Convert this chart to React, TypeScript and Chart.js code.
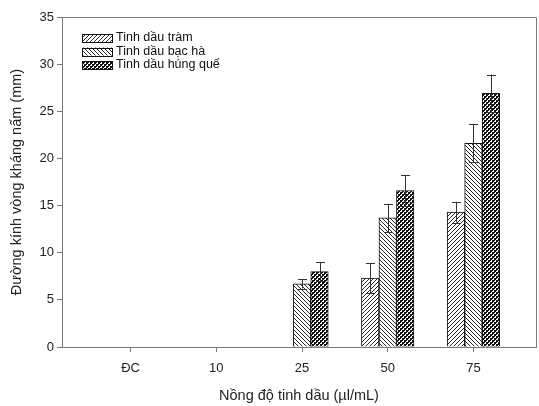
import React, { useEffect, useRef } from 'react';
import { Chart, registerables } from 'chart.js';

Chart.register(...registerables);

const categories = ['ĐC', '10', '25', '50', '75'];
const seriesNames = ['Tinh dầu tràm', 'Tinh dầu bạc hà', 'Tinh dầu húng quế'];
const tramValues = [0, 0, 0, 7.3, 14.3];
const tramErrors = [0, 0, 0, 1.6, 1.1];
const bachaValues = [0, 0, 6.7, 13.7, 21.6];
const bachaErrors = [0, 0, 0.5, 1.5, 2.0];
const hungqueValues = [0, 0, 8.0, 16.6, 26.9];
const hungqueErrors = [0, 0, 1.0, 1.6, 2.0];
const yTickValues = [0, 5, 10, 15, 20, 25, 30, 35];

const FONT = "'Liberation Sans', Arial, sans-serif";
const AXIS_COLOR = '#7a7a7a';

function makePattern(kind: string): CanvasPattern | string {
  const c = document.createElement('canvas');
  c.width = 4;
  c.height = 4;
  const g = c.getContext('2d');
  if (!g) return '#888';
  g.fillStyle = '#ffffff';
  g.fillRect(0, 0, 4, 4);
  g.strokeStyle = '#111';
  g.fillStyle = '#111';
  g.lineWidth = 0.9;
  if (kind === 'fwd') {
    g.beginPath();
    g.moveTo(0, 4); g.lineTo(4, 0);
    g.moveTo(-1, 1); g.lineTo(1, -1);
    g.moveTo(3, 5); g.lineTo(5, 3);
    g.stroke();
  } else if (kind === 'back') {
    g.beginPath();
    g.moveTo(0, 0); g.lineTo(4, 4);
    g.moveTo(-1, 3); g.lineTo(1, 5);
    g.moveTo(3, -1); g.lineTo(5, 1);
    g.stroke();
  } else {
    g.fillRect(0, 0, 2, 2);
    g.fillRect(2, 2, 2, 2);
    g.fillRect(0, 2, 1, 1);
    g.fillRect(2, 0, 1, 1);
  }
  const p = g.createPattern(c, 'repeat');
  return p || '#888';
}

const errorBarPlugin = {
  id: 'errorBars',
  afterDatasetsDraw(chart: any) {
    const ctx = chart.ctx;
    const yScale = chart.scales.y;
    ctx.save();
    ctx.strokeStyle = '#333';
    ctx.lineWidth = 1;
    chart.data.datasets.forEach((ds: any, i: number) => {
      const meta = chart.getDatasetMeta(i);
      meta.data.forEach((bar: any, j: number) => {
        const err = ds.errors[j];
        const v = ds.data[j].y;
        if (!err) return;
        const x = Math.round(bar.x) + 0.5;
        const yTop = yScale.getPixelForValue(v + err);
        const yBot = yScale.getPixelForValue(v - err);
        const cap = 4.5;
        ctx.beginPath();
        ctx.moveTo(x, yTop);
        ctx.lineTo(x, yBot);
        ctx.moveTo(x - cap, Math.round(yTop) + 0.5);
        ctx.lineTo(x + cap, Math.round(yTop) + 0.5);
        ctx.moveTo(x - cap, Math.round(yBot) + 0.5);
        ctx.lineTo(x + cap, Math.round(yBot) + 0.5);
        ctx.stroke();
      });
    });
    ctx.restore();
  },
};

const framePlugin = {
  id: 'frame',
  afterDraw(chart: any) {
    const { ctx, chartArea } = chart;
    ctx.save();
    ctx.strokeStyle = AXIS_COLOR;
    ctx.lineWidth = 1;
    ctx.beginPath();
    ctx.moveTo(Math.round(chartArea.left) + 0.5, Math.round(chartArea.top) + 0.5);
    ctx.lineTo(Math.round(chartArea.right) + 0.5, Math.round(chartArea.top) + 0.5);
    ctx.lineTo(Math.round(chartArea.right) + 0.5, Math.round(chartArea.bottom) + 0.5);
    ctx.stroke();
    ctx.restore();
  },
};

const legendPlugin = {
  id: 'customLegend',
  afterDraw(chart: any) {
    const { ctx, chartArea } = chart;
    ctx.save();
    const x0 = chartArea.left + 20;
    const y0 = chartArea.top + 21;
    const rowH = 13.5;
    chart.data.datasets.forEach((ds: any, i: number) => {
      const yc = y0 + i * rowH;
      ctx.fillStyle = ds.backgroundColor;
      ctx.fillRect(x0, yc - 4, 30, 8);
      ctx.strokeStyle = '#111';
      ctx.lineWidth = 1;
      ctx.strokeRect(x0 + 0.5, Math.round(yc - 4) + 0.5, 30, 8);
      ctx.fillStyle = '#111';
      ctx.font = `12.5px ${FONT}`;
      ctx.textAlign = 'left';
      ctx.textBaseline = 'middle';
      ctx.fillText(ds.label, x0 + 34, yc);
    });
    ctx.restore();
  },
};

export default function App() {
  const ref = useRef<HTMLCanvasElement | null>(null);

  useEffect(() => {
    if (!ref.current) return;
    const values = [tramValues, bachaValues, hungqueValues];
    const errors = [tramErrors, bachaErrors, hungqueErrors];
    const kinds = ['fwd', 'back', 'check'];
    const datasets = seriesNames.map((name, s) => ({
      label: name,
      data: categories.map((_, i) => ({ x: i, y: values[s][i] })),
      errors: errors[s],
      backgroundColor: makePattern(kinds[s]),
      borderColor: '#111',
      borderWidth: 1,
      barThickness: 17.5,
    }));

    const chart = new Chart(ref.current, {
      type: 'bar',
      data: { datasets: datasets as any },
      options: {
        responsive: false,
        animation: false,
        layout: { padding: { left: 0, right: 3, top: 17, bottom: 0 } },
        plugins: {
          legend: { display: false },
          tooltip: { enabled: false },
        },
        scales: {
          x: {
            type: 'linear',
            offset: false,
            min: -0.8,
            max: 4.73,
            afterBuildTicks: (scale: any) => {
              scale.ticks = categories.map((_, i) => ({ value: i }));
            },
            afterFit: (scale: any) => {
              scale.height = 59;
            },
            ticks: {
              callback: (v: any) => categories[Math.round(Number(v))] ?? '',
              font: { family: FONT, size: 13 },
              color: '#222',
              padding: 9,
              maxRotation: 0,
              autoSkip: false,
            },
            grid: {
              display: true,
              offset: false,
              drawOnChartArea: false,
              drawTicks: true,
              tickLength: 5,
              color: AXIS_COLOR,
            },
            border: { display: true, color: AXIS_COLOR },
            title: {
              display: true,
              text: 'Nồng độ tinh dầu (µl/mL)',
              font: { family: FONT, size: 14.5 },
              color: '#222',
              padding: { top: 0, bottom: 1 },
            },
          },
          y: {
            type: 'linear',
            min: 0,
            max: 35,
            afterBuildTicks: (scale: any) => {
              scale.ticks = yTickValues.map((v) => ({ value: v }));
            },
            afterFit: (scale: any) => {
              scale.width = 62;
            },
            ticks: {
              font: { family: FONT, size: 13 },
              color: '#222',
              padding: 3,
            },
            grid: {
              display: true,
              drawOnChartArea: false,
              drawTicks: true,
              tickLength: 5,
              color: AXIS_COLOR,
            },
            border: { display: true, color: AXIS_COLOR },
            title: {
              display: true,
              text: 'Đường kính vòng kháng nấm (mm)',
              font: { family: FONT, size: 14.5 },
              color: '#222',
              padding: { top: 8, bottom: 0 },
            },
          },
        },
      } as any,
      plugins: [errorBarPlugin, framePlugin, legendPlugin],
    });

    return () => chart.destroy();
  }, []);

  return (
    <div style={{ position: 'absolute', left: 0, top: 0, width: 539, height: 406, background: '#fff' }}>
      <canvas ref={ref} width={539} height={406} style={{ width: 539, height: 406, display: 'block' }} />
    </div>
  );
}
